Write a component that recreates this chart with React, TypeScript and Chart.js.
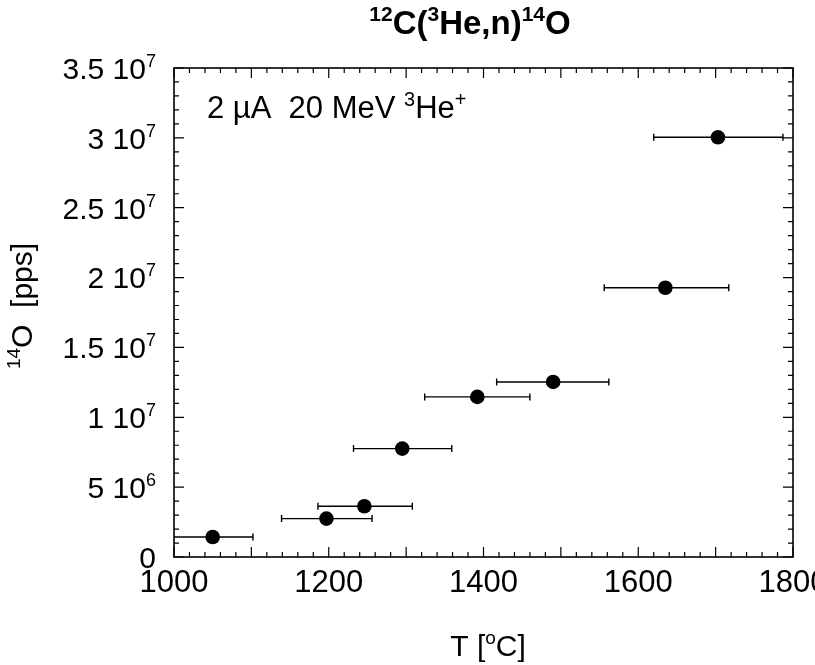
import React, { useEffect, useRef } from "react";
import { Chart, registerables } from "chart.js";

Chart.register(...registerables);

// ---- data ----
const temperatures = [1050, 1197, 1246, 1295, 1392, 1490, 1635, 1703];
const rates = [1.43e6, 2.75e6, 3.63e6, 7.76e6, 1.146e7, 1.253e7, 1.927e7, 3.004e7];
const tempLow = [998, 1139, 1186, 1232, 1324, 1417, 1556, 1620];
const tempHigh = [1102, 1256, 1308, 1359, 1460, 1562, 1717, 1787];

const xTickValues = [1000, 1200, 1400, 1600, 1800];
const xTickLabels = ["1000", "1200", "1400", "1600", "1800"];
const yTickValues = [0, 5e6, 1e7, 1.5e7, 2e7, 2.5e7, 3e7, 3.5e7];
const yTickMantissa = ["0", "5", "1", "1.5", "2", "2.5", "3", "3.5"];
const yTickExponent = ["", "6", "7", "7", "7", "7", "7", "7"];

const FONT = '"Liberation Sans", Arial, Helvetica, sans-serif';

type Part = { t: string; sup?: boolean };

function measureParts(ctx: CanvasRenderingContext2D, parts: Part[], size: number, supSize: number, weight: string) {
  let w = 0;
  for (const p of parts) {
    ctx.font = `${weight} ${p.sup ? supSize : size}px ${FONT}`;
    w += ctx.measureText(p.t).width;
  }
  return w;
}

function drawParts(
  ctx: CanvasRenderingContext2D,
  parts: Part[],
  x: number,
  y: number,
  size: number,
  supSize: number,
  raise: number,
  weight: string,
  align: "left" | "center" | "right"
) {
  const w = measureParts(ctx, parts, size, supSize, weight);
  let cx = align === "left" ? x : align === "center" ? x - w / 2 : x - w;
  ctx.textAlign = "left";
  ctx.textBaseline = "alphabetic";
  for (const p of parts) {
    ctx.font = `${weight} ${p.sup ? supSize : size}px ${FONT}`;
    ctx.fillText(p.t, cx, p.sup ? y - raise : y);
    cx += ctx.measureText(p.t).width;
  }
}

const framePlugin = {
  id: "framePlugin",
  beforeDatasetsDraw(chart: any) {
    const { ctx, chartArea: a, scales } = chart;
    const xs = scales.x;
    const ys = scales.y;
    ctx.save();
    ctx.beginPath();
    ctx.rect(a.left, a.top, a.right - a.left, a.bottom - a.top);
    ctx.clip();
    ctx.strokeStyle = "#000";
    ctx.lineWidth = 1.4;
    for (let i = 0; i < temperatures.length; i++) {
      const y = ys.getPixelForValue(rates[i]);
      const x1 = xs.getPixelForValue(tempLow[i]);
      const x2 = xs.getPixelForValue(tempHigh[i]);
      ctx.beginPath();
      ctx.moveTo(x1, y);
      ctx.lineTo(x2, y);
      ctx.moveTo(x1, y - 3.5);
      ctx.lineTo(x1, y + 3.5);
      ctx.moveTo(x2, y - 3.5);
      ctx.lineTo(x2, y + 3.5);
      ctx.stroke();
    }
    ctx.restore();
  },
  afterDraw(chart: any) {
    const { ctx, chartArea: a, scales } = chart;
    const xs = scales.x;
    const ys = scales.y;
    ctx.save();
    ctx.fillStyle = "#000";
    ctx.strokeStyle = "#000";

    // ticks (inward, all four sides)
    ctx.lineWidth = 1.2;
    ctx.beginPath();
    for (let v = 1000; v <= 1800; v += 20) {
      const x = xs.getPixelForValue(v);
      const len = v % 100 === 0 ? 10 : 5;
      ctx.moveTo(x, a.bottom);
      ctx.lineTo(x, a.bottom - len);
      ctx.moveTo(x, a.top);
      ctx.lineTo(x, a.top + len);
    }
    for (let k = 0; k <= 35; k++) {
      const y = ys.getPixelForValue(k * 1e6);
      const len = k % 5 === 0 ? 10 : 5;
      ctx.moveTo(a.left, y);
      ctx.lineTo(a.left + len, y);
      ctx.moveTo(a.right, y);
      ctx.lineTo(a.right - len, y);
    }
    ctx.stroke();

    // frame
    ctx.lineWidth = 1.6;
    ctx.strokeRect(a.left, a.top, a.right - a.left, a.bottom - a.top);

    // x tick labels
    for (let i = 0; i < xTickValues.length; i++) {
      const x = xs.getPixelForValue(xTickValues[i]);
      drawParts(ctx, [{ t: xTickLabels[i] }], x, a.bottom + 35, 31, 19, 12, "normal", "center");
    }
    // y tick labels
    for (let i = 0; i < yTickValues.length; i++) {
      const y = ys.getPixelForValue(yTickValues[i]);
      const parts: Part[] = yTickExponent[i]
        ? [{ t: yTickMantissa[i] + " 10" }, { t: yTickExponent[i], sup: true }]
        : [{ t: yTickMantissa[i] }];
      drawParts(ctx, parts, a.left - 18, y + 10.8, 30, 18, 12, "normal", "right");
    }

    // title
    drawParts(
      ctx,
      [{ t: "12", sup: true }, { t: "C(" }, { t: "3", sup: true }, { t: "He,n)" }, { t: "14", sup: true }, { t: "O" }],
      470,
      34,
      33,
      21,
      13,
      "bold",
      "center"
    );

    // annotation
    drawParts(
      ctx,
      [{ t: "2 \u00b5A  20 MeV " }, { t: "3", sup: true }, { t: "He" }, { t: "+", sup: true }],
      207,
      118,
      31,
      20,
      12,
      "normal",
      "left"
    );

    // x axis title
    drawParts(ctx, [{ t: "T [" }, { t: "o", sup: true }, { t: "C]" }], 488, 656, 30, 19, 12, "normal", "center");

    // y axis title
    ctx.save();
    ctx.translate(32, 306);
    ctx.rotate(-Math.PI / 2);
    drawParts(ctx, [{ t: "14", sup: true }, { t: "O  [pps]" }], 0, 0, 30, 19, 12, "normal", "center");
    ctx.restore();

    ctx.restore();
  },
};

export default function App() {
  const ref = useRef<HTMLCanvasElement | null>(null);
  useEffect(() => {
    if (!ref.current) return;
    const chart = new Chart(ref.current, {
      type: "scatter",
      data: {
        datasets: [
          {
            data: temperatures.map((t, i) => ({ x: t, y: rates[i] })),
            backgroundColor: "#000",
            borderColor: "#000",
            pointRadius: 7.3,
            pointHoverRadius: 7.3,
            borderWidth: 0,
          },
        ],
      },
      options: {
        animation: false,
        responsive: false,
        maintainAspectRatio: false,
        devicePixelRatio: 1,
        layout: { padding: { left: 174, right: 22, top: 68, bottom: 108 } },
        plugins: { legend: { display: false }, tooltip: { enabled: false }, title: { display: false } },
        scales: {
          x: { type: "linear", min: 1000, max: 1800, display: false },
          y: { type: "linear", min: 0, max: 3.5e7, display: false },
        },
      },
      plugins: [framePlugin],
    });
    return () => chart.destroy();
  }, []);
  return (
    <div style={{ position: "fixed", left: 0, top: 0, width: 815, height: 665, background: "#fff" }}>
      <canvas ref={ref} width={815} height={665} style={{ width: 815, height: 665, display: "block" }} />
    </div>
  );
}
